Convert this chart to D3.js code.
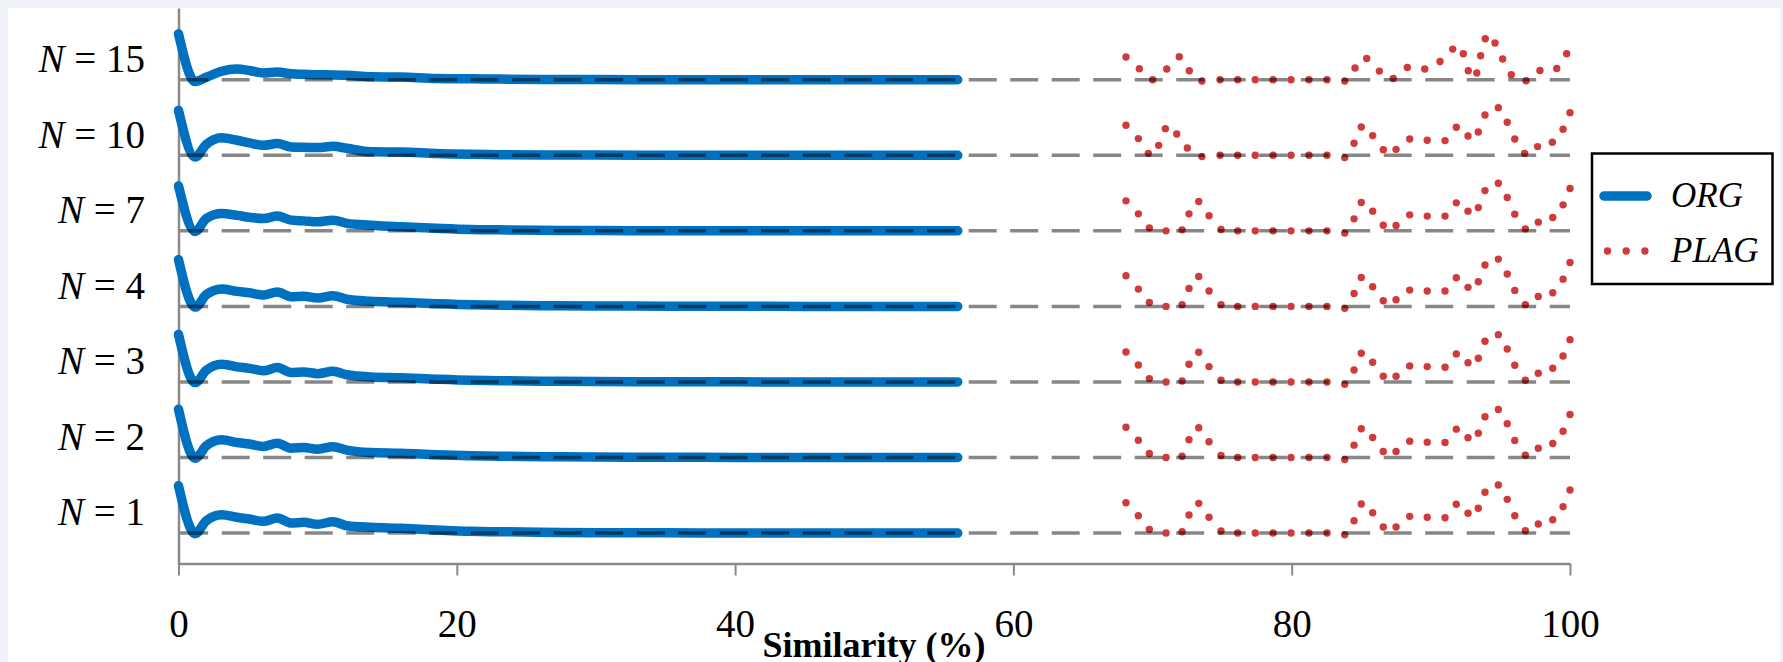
<!DOCTYPE html>
<html>
<head>
<meta charset="utf-8">
<script src="https://cdn.jsdelivr.net/npm/d3@7"></script>
<style>
  html, body { margin: 0; padding: 0; background: #eff3f8; }
  svg { display: block; }
</style>
</head>
<body>
<svg id="chart" width="1783" height="662"></svg>
<script>
// ---------- data ----------
const rowNames = ["1", "2", "3", "4", "7", "10", "15"];   // N values, bottom to top
const xTicks = [0, 20, 40, 60, 80, 100];

// ORG series (similarity %, relative frequency)
const orgX = [0, 1.2, 2, 3.1, 4.2, 5.1, 6.1, 7.1, 8.1, 9, 10, 11.1, 12.1, 13.8, 16, 18.5, 21, 23, 26, 30, 35, 40, 45, 50, 56];
const orgN1  = [6.26, -0.09, 1.63, 2.42, 2.08, 1.85, 1.55, 1.99, 1.32, 1.42, 1.15, 1.50, 0.97, 0.75, 0.62, 0.40, 0.22, 0.17, 0.11, 0.05, 0.03, 0.01, 0, 0, 0];
const orgN2  = [6.39, -0.09, 1.55, 2.34, 1.99, 1.79, 1.46, 1.89, 1.23, 1.32, 1.10, 1.42, 0.97, 0.66, 0.57, 0.36, 0.22, 0.17, 0.11, 0.05, 0.03, 0.01, 0, 0, 0];
const orgN3  = [6.30, -0.09, 1.55, 2.34, 2.00, 1.80, 1.48, 1.90, 1.25, 1.33, 1.10, 1.40, 0.95, 0.66, 0.55, 0.36, 0.21, 0.16, 0.10, 0.05, 0.03, 0.01, 0, 0, 0];
const orgN4  = [6.20, -0.09, 1.55, 2.30, 1.99, 1.80, 1.50, 1.90, 1.28, 1.35, 1.12, 1.42, 0.95, 0.68, 0.55, 0.36, 0.21, 0.16, 0.10, 0.05, 0.03, 0.01, 0, 0, 0];
const orgN7  = [5.95, -0.07, 1.63, 2.29, 2.05, 1.79, 1.63, 1.95, 1.42, 1.32, 1.19, 1.42, 0.99, 0.75, 0.53, 0.33, 0.17, 0.13, 0.08, 0.04, 0.02, 0.01, 0, 0, 0];
const orgN10 = [5.96, -0.23, 1.46, 2.34, 1.99, 1.65, 1.32, 1.55, 1.10, 1.06, 1.02, 1.19, 0.93, 0.46, 0.44, 0.23, 0.13, 0.09, 0.05, 0.03, 0, 0, 0, 0, 0];
const orgN15 = [6.09, -0.23, 0.33, 1.13, 1.42, 1.23, 0.89, 1.02, 0.79, 0.73, 0.66, 0.64, 0.60, 0.40, 0.36, 0.17, 0.13, 0.09, 0.05, 0.03, 0, 0, 0, 0, 0];

// PLAG series (similarity %, relative frequency), sampled where drawn
const plagX = [68.09, 68.98, 69.77, 70.97, 72.12, 72.62, 73.32, 74.06, 74.92, 76.12, 77.38, 78.66, 79.95, 81.24, 82.54, 83.81, 84.48, 85.00, 85.82, 86.58, 87.50, 88.48, 89.74, 91.02, 91.83, 92.67, 93.41, 93.89, 94.85, 95.49, 96.03, 96.79, 97.72, 98.76, 99.50, 100.0];
const plagN1 = [4.01, 2.29, 0.49, 0, 0.17, 2.38, 3.93, 2.08, 0.26, 0, 0, 0, 0, 0, 0, -0.23, 1.63, 3.84, 2.69, 0.79, 0.79, 2.21, 2.08, 2.03, 3.80, 2.61, 3.27, 5.39, 6.35, 4.46, 2.29, 0.30, 1.19, 1.76, 3.48, 5.69];
const plagN2 = [4.01, 2.29, 0.53, 0, 0.17, 2.34, 3.93, 2.08, 0.26, 0, 0, 0, 0, 0, 0, -0.26, 1.63, 3.80, 2.65, 0.79, 0.79, 2.16, 2.03, 1.99, 3.75, 2.61, 3.22, 5.39, 6.35, 4.46, 2.25, 0.30, 1.23, 1.85, 3.48, 5.69];
const plagN3 = [3.97, 2.25, 0.44, 0, 0.13, 2.34, 3.93, 2.03, 0.23, 0, 0, 0, 0, 0, 0, -0.30, 1.59, 3.80, 2.61, 0.75, 0.75, 2.12, 2.03, 1.95, 3.71, 2.55, 3.14, 5.39, 6.26, 4.37, 2.21, 0.23, 1.15, 1.81, 3.44, 5.60];
const plagN4 = [4.06, 2.29, 0.53, 0, 0.23, 2.38, 3.97, 2.03, 0.23, 0, 0, 0, 0, 0, 0, -0.26, 1.72, 3.84, 2.61, 0.75, 0.89, 2.16, 2.03, 2.03, 3.80, 2.52, 3.27, 5.47, 6.26, 4.28, 2.12, 0.23, 1.32, 1.81, 3.61, 5.82];
const plagN7 = [3.97, 2.25, 0.40, 0, 0.13, 2.25, 3.88, 1.99, 0.17, 0, 0, 0, 0, 0, 0, -0.30, 1.59, 3.75, 2.61, 0.75, 0.70, 2.12, 1.95, 1.95, 3.71, 2.61, 3.08, 5.33, 6.31, 4.41, 2.21, 0.26, 1.15, 1.76, 3.44, 5.60];
const plagXN10 = [68.09, 68.98, 69.70, 70.44, 70.92, 71.74, 72.50, 73.55, 74.85, 76.12, 77.38, 78.66, 79.95, 81.24, 82.54, 83.81, 84.48, 85.00, 85.82, 86.58, 87.50, 88.48, 89.74, 91.02, 91.83, 92.67, 93.41, 93.89, 94.85, 95.49, 96.03, 96.74, 97.67, 98.73, 99.50, 100.0];
const plagN10 = [3.97, 2.21, 0.26, 1.32, 3.53, 2.82, 0.97, -0.17, 0, 0, 0, 0, 0, 0, 0, -0.30, 1.59, 3.75, 2.61, 0.75, 0.79, 2.16, 1.99, 1.95, 3.71, 2.55, 3.08, 5.33, 6.31, 4.37, 2.16, 0.26, 1.15, 1.72, 3.44, 5.65];
const plagXN15 = [68.09, 69.05, 70.01, 71.02, 71.92, 72.64, 73.55, 74.85, 76.12, 77.38, 78.66, 79.95, 81.24, 82.54, 83.81, 84.55, 85.39, 86.30, 87.30, 88.31, 89.56, 90.66, 91.57, 92.33, 92.69, 93.30, 93.58, 93.91, 94.61, 95.16, 95.78, 96.84, 97.84, 99.05, 99.76];
const plagN15 = [3.01, 1.46, 0, 1.42, 3.04, 1.19, -0.17, 0, 0, 0, 0, 0, 0, 0, -0.17, 1.55, 2.82, 1.15, 0.17, 1.63, 1.42, 2.42, 4.06, 3.44, 1.19, 0.89, 3.18, 5.43, 4.86, 2.74, 0.66, -0.13, 1.23, 1.50, 3.44];

const orgRows = [orgN1, orgN2, orgN3, orgN4, orgN7, orgN10, orgN15];
const plagRows = [
  [plagX, plagN1], [plagX, plagN2], [plagX, plagN3], [plagX, plagN4],
  [plagX, plagN7], [plagXN10, plagN10], [plagXN15, plagN15]
];
const rowStep = 10;

// ---------- drawing ----------
const svg = d3.select("#chart");
svg.append("rect").attr("x", 8).attr("y", 8).attr("width", 1772).attr("height", 654).attr("fill", "#ffffff");

const x = d3.scaleLinear().domain([0, 100]).range([178.5, 1570]);
const y = d3.scaleLinear().domain([-4.1, 69.5]).range([564, 8]);

const serif = "'Liberation Serif', 'Times New Roman', serif";
const BLUE = "#0070C0";
const RED = "#D03A3A";

// axes
const gx = svg.append("g").attr("transform", `translate(0,${y(-4.1) - 0.5})`)
  .call(d3.axisBottom(x).tickValues(xTicks).tickSize(12).tickSizeOuter(0).tickFormat(d3.format("d")));
gx.select(".domain").attr("stroke", "#8a8a8a").attr("stroke-width", 2.5);
gx.selectAll(".tick line").attr("stroke", "#8a8a8a").attr("stroke-width", 2);
gx.selectAll(".tick text").attr("y", 73).attr("dy", null)
  .attr("font-family", serif).attr("font-size", 39).attr("fill", "#000");

const gy = svg.append("g").attr("transform", `translate(${x(0)},0)`)
  .call(d3.axisLeft(y).tickValues([]).tickSizeOuter(0));
gy.select(".domain").attr("stroke", "#8a8a8a").attr("stroke-width", 2.5);

// ORG lines
const line = d3.line().curve(d3.curveMonotoneX);
orgRows.forEach((vals, i) => {
  const pts = orgX.map((xv, j) => [x(xv), y(vals[j] + i * rowStep)]);
  svg.append("path").attr("d", line(pts))
    .attr("fill", "none").attr("stroke", BLUE).attr("stroke-width", 9.5)
    .attr("stroke-linecap", "round").attr("stroke-linejoin", "round");
});

// PLAG dots
plagRows.forEach(([xs, vals], i) => {
  svg.append("g").selectAll("circle").data(xs).join("circle")
    .attr("cx", (d) => x(d))
    .attr("cy", (d, j) => y(vals[j] + i * rowStep))
    .attr("r", 3.7).attr("fill", RED);
});

// dashed baselines
rowNames.forEach((n, i) => {
  svg.append("line")
    .attr("x1", x(0)).attr("x2", x(100))
    .attr("y1", y(i * rowStep)).attr("y2", y(i * rowStep))
    .attr("stroke", "rgba(0,0,0,0.47)").attr("stroke-width", 3.5)
    .attr("stroke-dasharray", "28 13.5").attr("stroke-dashoffset", 39.8);
});

// row labels
rowNames.forEach((n, i) => {
  const t = svg.append("text")
    .attr("x", 145).attr("y", y(i * rowStep) - 7.6)
    .attr("text-anchor", "end").attr("font-family", serif).attr("font-size", 39);
  t.append("tspan").attr("font-style", "italic").text("N");
  t.append("tspan").text(" = " + n);
});

// x-axis title
svg.append("text").attr("x", 874).attr("y", 657).attr("text-anchor", "middle")
  .attr("font-family", serif).attr("font-size", 36).attr("font-weight", "bold")
  .text("Similarity (%)");

// legend
const lg = svg.append("g");
lg.append("rect").attr("x", 1592).attr("y", 153.5).attr("width", 180.5).attr("height", 130.5)
  .attr("fill", "#fff").attr("stroke", "#000").attr("stroke-width", 2.5);
lg.append("line").attr("x1", 1604).attr("x2", 1647).attr("y1", 196).attr("y2", 196)
  .attr("stroke", BLUE).attr("stroke-width", 9.5).attr("stroke-linecap", "round");
lg.selectAll("circle.leg").data([0, 1, 2]).join("circle").attr("class", "leg")
  .attr("cx", (d) => 1607.5 + d * 18.7).attr("cy", 251).attr("r", 3.7).attr("fill", RED);
lg.append("text").attr("x", 1671).attr("y", 207).attr("font-family", serif)
  .attr("font-size", 35).attr("font-style", "italic").text("ORG");
lg.append("text").attr("x", 1671).attr("y", 262).attr("font-family", serif)
  .attr("font-size", 35).attr("font-style", "italic").text("PLAG");
</script>
</body>
</html>
